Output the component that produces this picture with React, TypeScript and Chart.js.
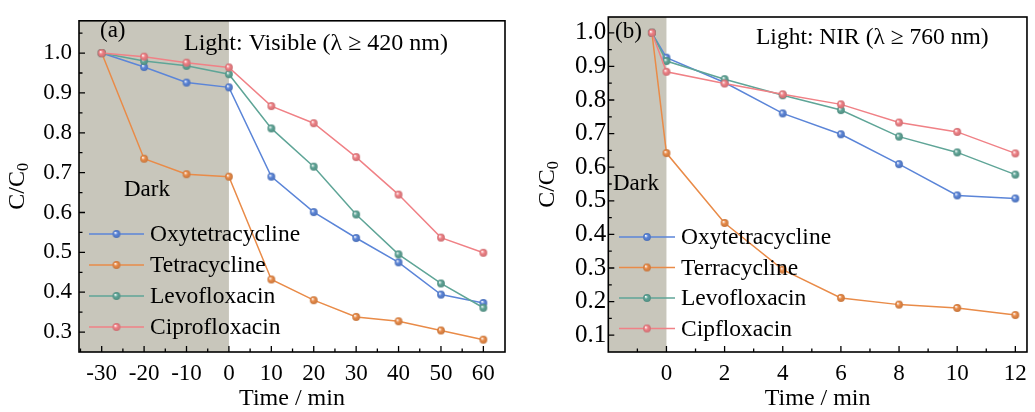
import React, { useEffect, useRef } from "react";
import { Chart, registerables } from "chart.js";

Chart.register(...registerables);

const FONT = "'Liberation Serif', 'Times New Roman', serif";

// ---------- Panel (a): Visible light ----------
const timeA = [-30, -20, -10, 0, 10, 20, 30, 40, 50, 60];
const oxyA = [1.0, 0.965, 0.926, 0.914, 0.69, 0.601, 0.536, 0.475, 0.394, 0.373];
const tetraA = [1.0, 0.735, 0.696, 0.69, 0.432, 0.38, 0.338, 0.327, 0.304, 0.281];
const levoA = [1.0, 0.98, 0.968, 0.947, 0.811, 0.715, 0.595, 0.495, 0.422, 0.361];
const ciproA = [1.0, 0.991, 0.976, 0.964, 0.867, 0.824, 0.739, 0.645, 0.537, 0.499];
const namesA = ["Oxytetracycline", "Tetracycline", "Levofloxacin", "Ciprofloxacin"];
const xTicksA = [-30, -20, -10, 0, 10, 20, 30, 40, 50, 60];
const xMinorA = [-35, -25, -15, -5, 5, 15, 25, 35, 45, 55, 65];
const yTicksA = [0.3, 0.4, 0.5, 0.6, 0.7, 0.8, 0.9, 1.0];
const yMinorA = [0.25, 0.35, 0.45, 0.55, 0.65, 0.75, 0.85, 0.95, 1.05];

// ---------- Panel (b): NIR light ----------
const timeB = [-0.5, 0, 2, 4, 6, 8, 10, 12];
const oxyB = [1.0, 0.926, 0.852, 0.76, 0.698, 0.609, 0.516, 0.507];
const terraB = [1.0, 0.642, 0.434, 0.295, 0.211, 0.191, 0.181, 0.16];
const levoB = [1.0, 0.916, 0.862, 0.814, 0.77, 0.691, 0.644, 0.578];
const cipB = [1.0, 0.884, 0.849, 0.817, 0.787, 0.733, 0.705, 0.641];
const namesB = ["Oxytetracycline", "Terracycline", "Levofloxacin", "Cipfloxacin"];
const xTicksB = [0, 2, 4, 6, 8, 10, 12];
const xMinorB = [-1, 1, 3, 5, 7, 9, 11];
const yTicksB = [0.1, 0.2, 0.3, 0.4, 0.5, 0.6, 0.7, 0.8, 0.9, 1.0];
const yMinorB = [0.15, 0.25, 0.35, 0.45, 0.55, 0.65, 0.75, 0.85, 0.95];

const COLORS = ["#5b85d8", "#e98b48", "#5fa597", "#f08186"];
const DARK = "#c8c6bb";

function shade(hex: string, f: number) {
  const n = parseInt(hex.slice(1), 16);
  const r = Math.round(((n >> 16) & 255) * f);
  const g = Math.round(((n >> 8) & 255) * f);
  const b = Math.round((n & 255) * f);
  return `rgb(${r},${g},${b})`;
}

function sphere(color: string) {
  const r = 3.9;
  const s = 10;
  const c = document.createElement("canvas");
  c.width = s;
  c.height = s;
  const g = c.getContext("2d")!;
  const cx = s / 2;
  const cy = s / 2;
  const grad = g.createRadialGradient(cx - 1.3, cy - 1.3, 0.3, cx, cy, r);
  grad.addColorStop(0, "rgba(255,255,255,0.9)");
  grad.addColorStop(0.4, color);
  grad.addColorStop(1, shade(color, 0.85));
  g.fillStyle = grad;
  g.beginPath();
  g.arc(cx, cy, r, 0, Math.PI * 2);
  g.fill();
  return c;
}

type Txt = { text: string; x: number; y: number; size: number };

type PanelCfg = {
  times: number[];
  series: number[][];
  names: string[];
  xMin: number;
  xMax: number;
  yMin: number;
  yMax: number;
  xTicks: number[];
  xMinor: number[];
  yTicks: number[];
  yMinor: number[];
  darkEnd: number;
  yAxisW: number;
  padRight: number;
  xTickSize: number;
  yTickSize: number;
  yTickPad: number;
  texts: Txt[];
  legend: { lx0: number; lx1: number; tx: number; y0: number; dy: number };
  yTitleX: number;
};

function Panel({ cfg, left, width }: { cfg: PanelCfg; left: number; width: number }) {
  const ref = useRef<HTMLCanvasElement>(null);
  useEffect(() => {
    const pts = COLORS.map((c) => sphere(c));
    const deco = {
      id: "deco",
      beforeDatasetsDraw(chart: any) {
        const { ctx, chartArea: a, scales } = chart;
        const x0 = scales.x.getPixelForValue(cfg.darkEnd);
        ctx.save();
        ctx.fillStyle = DARK;
        ctx.fillRect(a.left, a.top, x0 - a.left, a.bottom - a.top);
        ctx.restore();
      },
      afterDatasetsDraw(chart: any) {
        const { ctx, chartArea: a, scales } = chart;
        const xs = scales.x;
        const ys = scales.y;
        ctx.save();
        // inward ticks
        ctx.strokeStyle = "#000";
        ctx.lineWidth = 1.3;
        ctx.beginPath();
        cfg.xTicks.forEach((v) => {
          const p = xs.getPixelForValue(v);
          ctx.moveTo(p, a.bottom);
          ctx.lineTo(p, a.bottom - 6);
        });
        cfg.xMinor.forEach((v) => {
          const p = xs.getPixelForValue(v);
          if (p <= a.left + 1 || p >= a.right - 1) return;
          ctx.moveTo(p, a.bottom);
          ctx.lineTo(p, a.bottom - 3.5);
        });
        cfg.yTicks.forEach((v) => {
          const p = ys.getPixelForValue(v);
          ctx.moveTo(a.left, p);
          ctx.lineTo(a.left + 6, p);
        });
        cfg.yMinor.forEach((v) => {
          const p = ys.getPixelForValue(v);
          if (p <= a.top + 1 || p >= a.bottom - 1) return;
          ctx.moveTo(a.left, p);
          ctx.lineTo(a.left + 3.5, p);
        });
        ctx.stroke();
        // frame
        ctx.lineWidth = 1.6;
        ctx.strokeRect(a.left, a.top, a.right - a.left, a.bottom - a.top);

        // texts
        ctx.fillStyle = "#000";
        ctx.textBaseline = "middle";
        ctx.textAlign = "left";
        cfg.texts.forEach((t) => {
          ctx.font = `${t.size}px ${FONT}`;
          ctx.fillText(t.text, t.x, t.y);
        });

        // axis titles
        ctx.font = `24px ${FONT}`;
        ctx.textAlign = "center";
        ctx.fillText("Time / min", (a.left + a.right) / 2, 399);
        ctx.save();
        ctx.translate(cfg.yTitleX, (a.top + a.bottom) / 2);
        ctx.rotate(-Math.PI / 2);
        ctx.textAlign = "left";
        ctx.font = `24px ${FONT}`;
        const w1 = ctx.measureText("C/C").width;
        ctx.font = `16px ${FONT}`;
        const w2 = ctx.measureText("0").width;
        const start = -(w1 + w2) / 2;
        ctx.font = `24px ${FONT}`;
        ctx.fillText("C/C", start, 0);
        ctx.font = `16px ${FONT}`;
        ctx.fillText("0", start + w1, 6);
        ctx.restore();

        // legend
        const L = cfg.legend;
        ctx.font = `23.5px ${FONT}`;
        ctx.textAlign = "left";
        cfg.names.forEach((n, i) => {
          const y = L.y0 + i * L.dy;
          ctx.strokeStyle = COLORS[i];
          ctx.lineWidth = 1.5;
          ctx.beginPath();
          ctx.moveTo(L.lx0, y);
          ctx.lineTo(L.lx1, y);
          ctx.stroke();
          const m = pts[i];
          ctx.drawImage(m, (L.lx0 + L.lx1) / 2 - m.width / 2, y - m.height / 2);
          ctx.fillStyle = "#000";
          ctx.fillText(n, L.tx, y + 1);
        });
        ctx.restore();
      },
    };

    const chart = new Chart(ref.current!, {
      type: "line",
      data: {
        datasets: cfg.series.map((vals, i) => ({
          label: cfg.names[i],
          data: cfg.times.map((t, j) => ({ x: t, y: vals[j] })),
          borderColor: COLORS[i],
          backgroundColor: COLORS[i],
          borderWidth: 1.5,
          pointStyle: pts[i] as any,
          pointRadius: 4,
          tension: 0,
          order: 3 - i,
        })),
      },
      options: {
        responsive: false,
        animation: false,
        devicePixelRatio: 1,
        layout: { padding: { top: 16, right: cfg.padRight, left: 0, bottom: 0 } },
        plugins: { legend: { display: false }, tooltip: { enabled: false } },
        scales: {
          x: {
            type: "linear",
            min: cfg.xMin,
            max: cfg.xMax,
            afterBuildTicks: (s: any) => {
              s.ticks = cfg.xTicks.map((v) => ({ value: v }));
            },
            afterFit: (s: any) => {
              s.height = 60;
            },
            grid: { display: false, drawTicks: false },
            border: { display: false },
            ticks: {
              color: "#000",
              font: { family: FONT, size: cfg.xTickSize },
              padding: 8,
              maxRotation: 0,
              autoSkip: false,
              callback: (v: any) => String(v),
            },
          },
          y: {
            type: "linear",
            min: cfg.yMin,
            max: cfg.yMax,
            afterBuildTicks: (s: any) => {
              s.ticks = cfg.yTicks.map((v) => ({ value: v }));
            },
            afterFit: (s: any) => {
              s.width = cfg.yAxisW;
            },
            grid: { display: false, drawTicks: false },
            border: { display: false },
            ticks: {
              color: "#000",
              font: { family: FONT, size: cfg.yTickSize },
              padding: cfg.yTickPad,
              autoSkip: false,
              callback: (v: any) => Number(v).toFixed(1),
            },
          },
        },
      },
      plugins: [deco],
    } as any);
    return () => chart.destroy();
  }, []);
  return (
    <canvas
      ref={ref}
      width={width}
      height={412}
      style={{ position: "absolute", left, top: 0, width, height: 412 }}
    />
  );
}

const cfgA: PanelCfg = {
  times: timeA,
  series: [oxyA, tetraA, levoA, ciproA],
  names: namesA,
  xMin: -35.35,
  xMax: 65.1,
  yMin: 0.25,
  yMax: 1.081,
  xTicks: xTicksA,
  xMinor: xMinorA,
  yTicks: yTicksA,
  yMinor: yMinorA,
  darkEnd: 0,
  yAxisW: 79,
  padRight: 13,
  xTickSize: 23,
  yTickSize: 23,
  yTickPad: 7,
  texts: [
    { text: "(a)", x: 100, y: 31, size: 23 },
    { text: "Light: Visible (λ ≥ 420 nm)", x: 184, y: 44, size: 24 },
    { text: "Dark", x: 124, y: 190, size: 23 },
  ],
  legend: { lx0: 89, lx1: 144, tx: 150, y0: 234, dy: 31 },
  yTitleX: 18,
};

const cfgB: PanelCfg = {
  times: timeB,
  series: [oxyB, terraB, levoB, cipB],
  names: namesB,
  xMin: -2,
  xMax: 12.4,
  yMin: 0.05,
  yMax: 1.047,
  xTicks: xTicksB,
  xMinor: xMinorB,
  yTicks: yTicksB,
  yMinor: yMinorB,
  darkEnd: 0,
  yAxisW: 90.3,
  padRight: 3.3,
  xTickSize: 23,
  yTickSize: 25,
  yTickPad: 2,
  texts: [
    { text: "(b)", x: 615 - 518, y: 32, size: 23 },
    { text: "Light: NIR (λ ≥ 760 nm)", x: 756 - 518, y: 38, size: 23.5 },
    { text: "Dark", x: 613 - 518, y: 184, size: 23 },
  ],
  legend: { lx0: 619 - 518, lx1: 675 - 518, tx: 681 - 518, y0: 237, dy: 30.5 },
  yTitleX: 548 - 518,
};

export default function App() {
  return (
    <div
      style={{
        position: "fixed",
        left: 0,
        top: 0,
        width: 1035,
        height: 412,
        background: "#fff",
        overflow: "hidden",
      }}
    >
      <Panel cfg={cfgA} left={0} width={518} />
      <Panel cfg={cfgB} left={518} width={517} />
    </div>
  );
}
